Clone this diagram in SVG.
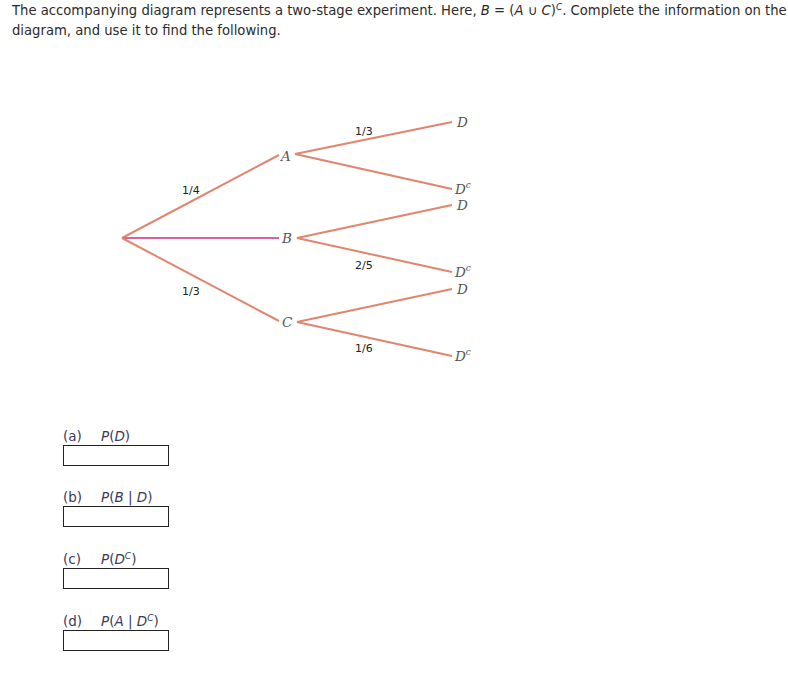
<svg xmlns="http://www.w3.org/2000/svg" width="788" height="675" viewBox="0 0 788 675">
<style>
.hd{font-family:"DejaVu Sans",Verdana,sans-serif;font-size:13.2px;fill:#2b2b2b}
.q{font-family:"DejaVu Sans",Verdana,sans-serif;font-size:13.5px;fill:#3a3a5c}
.it{font-style:italic}
.nd{font-family:"DejaVu Serif","Liberation Serif",serif;font-style:italic;font-size:13.5px;fill:#555}
.sup{font-size:9px}
.pr{font-family:"DejaVu Sans",Verdana,sans-serif;font-size:11px;fill:#222}
.br{stroke:#e0856e;stroke-width:2;fill:none}
.brp{stroke:#d9629f;stroke-width:2;fill:none}
.box{fill:#fff;stroke:#222;stroke-width:1}
</style>
<rect width="788" height="675" fill="#fff"/>
<text class="hd" x="12" y="15">The accompanying diagram represents a two-stage experiment. Here, <tspan class="it">B</tspan> = (<tspan class="it">A</tspan> ∪ <tspan class="it">C</tspan>)<tspan class="it" font-size="9" dy="-5">C</tspan><tspan dy="5">. Complete the information on the</tspan></text>
<text class="hd" x="12" y="35">diagram, and use it to find the following.</text>
<g id="connectors">
<line class="br" x1="122" y1="238" x2="279" y2="155"/>
<line class="brp" x1="122" y1="238" x2="279" y2="238"/>
<line class="br" x1="122" y1="238" x2="279" y2="321"/>
<line class="br" x1="295" y1="154" x2="452" y2="122"/>
<line class="br" x1="295" y1="154" x2="452" y2="189"/>
<line class="br" x1="297" y1="238" x2="452" y2="205"/>
<line class="br" x1="297" y1="238" x2="452" y2="272"/>
<line class="br" x1="297" y1="322" x2="452" y2="289"/>
<line class="br" x1="297" y1="322" x2="452" y2="356"/>
<text class="pr" x="182" y="194">1/4</text>
<text class="pr" x="182" y="295">1/3</text>
<text class="pr" x="355" y="135">1/3</text>
<text class="pr" x="355" y="269">2/5</text>
<text class="pr" x="355" y="352">1/6</text>
</g>
<g id="node-A"><text class="nd" x="281" y="161">A</text></g>
<g id="node-B"><text class="nd" x="282" y="243">B</text></g>
<g id="node-C"><text class="nd" x="282" y="327">C</text></g>
<g id="node-AD"><text class="nd" x="457" y="127">D</text></g>
<g id="node-ADc"><text class="nd" x="455" y="194">D<tspan class="sup" dy="-6">c</tspan></text></g>
<g id="node-BD"><text class="nd" x="457" y="210">D</text></g>
<g id="node-BDc"><text class="nd" x="455" y="277">D<tspan class="sup" dy="-6">c</tspan></text></g>
<g id="node-CD"><text class="nd" x="457" y="294">D</text></g>
<g id="node-CDc"><text class="nd" x="455" y="361">D<tspan class="sup" dy="-6">c</tspan></text></g>
<g id="qa"><text class="q" x="63" y="441">(a)</text><text class="q" x="101" y="441"><tspan class="it">P</tspan>(<tspan class="it">D</tspan>)</text><rect class="box" x="63.5" y="445.5" width="105" height="20"/></g>
<g id="qb"><text class="q" x="63" y="502">(b)</text><text class="q" x="101" y="502"><tspan class="it">P</tspan>(<tspan class="it">B</tspan> | <tspan class="it">D</tspan>)</text><rect class="box" x="63.5" y="506.5" width="105" height="20"/></g>
<g id="qc"><text class="q" x="63" y="564">(c)</text><text class="q" x="101" y="564"><tspan class="it">P</tspan>(<tspan class="it">D</tspan><tspan class="it" font-size="9" dy="-5">C</tspan><tspan dy="5">)</tspan></text><rect class="box" x="63.5" y="568.5" width="105" height="20"/></g>
<g id="qd"><text class="q" x="63" y="626">(d)</text><text class="q" x="101" y="626"><tspan class="it">P</tspan>(<tspan class="it">A</tspan> | <tspan class="it">D</tspan><tspan class="it" font-size="9" dy="-5">C</tspan><tspan dy="5">)</tspan></text><rect class="box" x="63.5" y="630.5" width="105" height="20"/></g>
</svg>
